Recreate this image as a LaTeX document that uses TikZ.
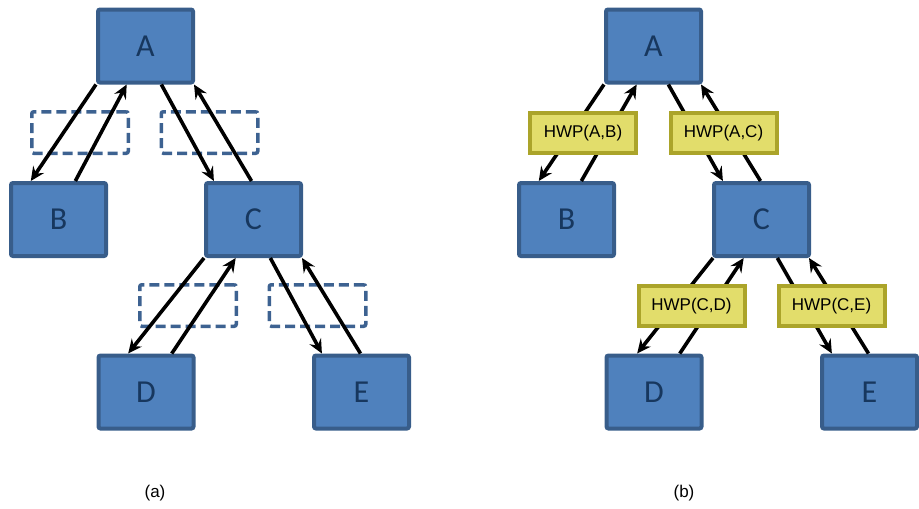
\documentclass[tikz,border=0pt]{standalone}
\usepackage{fontspec}
\setmainfont{Liberation Sans}
\newfontfamily\boxfont{Carlito}
\usetikzlibrary{arrows.meta,calc}
\definecolor{boxfill}{HTML}{4F81BD}
\definecolor{boxline}{HTML}{385D8A}
\definecolor{boxtext}{HTML}{17375E}
\definecolor{hwpfill}{HTML}{E2DD6B}
\definecolor{hwpline}{HTML}{ABA42A}
\definecolor{dashline}{HTML}{3D6291}
\begin{document}
\begin{tikzpicture}[x=1pt,y=-1pt,
  treebox/.style={draw=boxline, fill=boxfill, line width=4pt, rounded corners=2pt,
    minimum width=95pt, minimum height=73pt, inner sep=0pt,
    font=\boxfont\fontsize{32}{32}\selectfont, text=boxtext},
  dashbox/.style={draw=dashline, line width=3.5pt, dash pattern=on 10pt off 5pt,
    rounded corners=2pt, minimum width=96.5pt, minimum height=41.5pt, inner sep=0pt},
  hwpbox/.style={draw=hwpline, fill=hwpfill, line width=4pt,
    minimum width=106pt, minimum height=40pt, inner sep=0pt,
    font=\fontsize{17}{17}\selectfont},
  conn/.style={line width=3.6pt, -{Stealth[length=14pt,width=13pt,inset=5pt]}},
  caption/.style={font=\fontsize{17}{17}\selectfont, inner sep=0pt}]
\useasboundingbox (0,0) rectangle (919,509);
% ---------- panel (a) ----------
\node[dashbox] (daB) at (80,132.5) {};
\node[dashbox] (daC) at (209.5,132.5) {};
\node[dashbox] (daD) at (188,305.5) {};
\node[dashbox] (daE) at (317.5,305.5) {};
\node[treebox] (aA) at (145.5,46) {A};
\node[treebox] (aB) at (58.5,219.5) {B};
\node[treebox] (aC) at (253.5,219.5) {C};
\node[treebox] (aD) at (146,392) {D};
\node[treebox] (aE) at (361.5,392) {E};
\draw[conn] (aA.south west) -- ($(aB.north west)!0.22!(aB.north east)$);
\draw[conn] ($(aB.north west)!0.67!(aB.north east)$) -- ($(aA.south west)!0.31!(aA.south east)$);
\draw[conn] ($(aA.south west)!0.66!(aA.south east)$) -- ($(aC.north west)!0.10!(aC.north east)$);
\draw[conn] ($(aC.north west)!0.48!(aC.north east)$) -- ($(aA.south west)!0.99!(aA.south east)$);
\draw[conn] (aC.south west) -- ($(aD.north west)!0.32!(aD.north east)$);
\draw[conn] ($(aD.north west)!0.76!(aD.north east)$) -- ($(aC.south west)!0.32!(aC.south east)$);
\draw[conn] ($(aC.south west)!0.67!(aC.south east)$) -- ($(aE.north west)!0.10!(aE.north east)$);
\draw[conn] ($(aE.north west)!0.49!(aE.north east)$) -- ($(aC.south west)!0.99!(aC.south east)$);
\node[caption] (capa) at (155,493) {(a)};
% ---------- panel (b) ----------
\node[treebox] (bA) at (653.5,46) {A};
\node[treebox] (bB) at (566.5,219.5) {B};
\node[treebox] (bC) at (761.5,219.5) {C};
\node[treebox] (bD) at (654,392) {D};
\node[treebox] (bE) at (869.5,392) {E};
\draw[conn] (bA.south west) -- ($(bB.north west)!0.22!(bB.north east)$);
\draw[conn] ($(bB.north west)!0.65!(bB.north east)$) -- ($(bA.south west)!0.33!(bA.south east)$);
\draw[conn] ($(bA.south west)!0.65!(bA.south east)$) -- ($(bC.north west)!0.11!(bC.north east)$);
\draw[conn] ($(bC.north west)!0.49!(bC.north east)$) -- ($(bA.south west)!0.98!(bA.south east)$);
\draw[conn] ($(bC.south west)!0.01!(bC.south east)$) -- ($(bD.north west)!0.33!(bD.north east)$);
\draw[conn] ($(bD.north west)!0.76!(bD.north east)$) -- ($(bC.south west)!0.32!(bC.south east)$);
\draw[conn] ($(bC.south west)!0.66!(bC.south east)$) -- ($(bE.north west)!0.12!(bE.north east)$);
\draw[conn] ($(bE.north west)!0.49!(bE.north east)$) -- ($(bC.south west)!0.98!(bC.south east)$);
\node[hwpbox] (hAB) at (583,133) {HWP(A,B)};
\node[hwpbox] (hAC) at (723.5,133) {HWP(A,C)};
\node[hwpbox] (hCD) at (691.5,306) {HWP(C,D)};
\node[hwpbox] (hCE) at (831.5,306) {HWP(C,E)};
\node[caption] (capb) at (684,493) {(b)};
\end{tikzpicture}
\end{document}
